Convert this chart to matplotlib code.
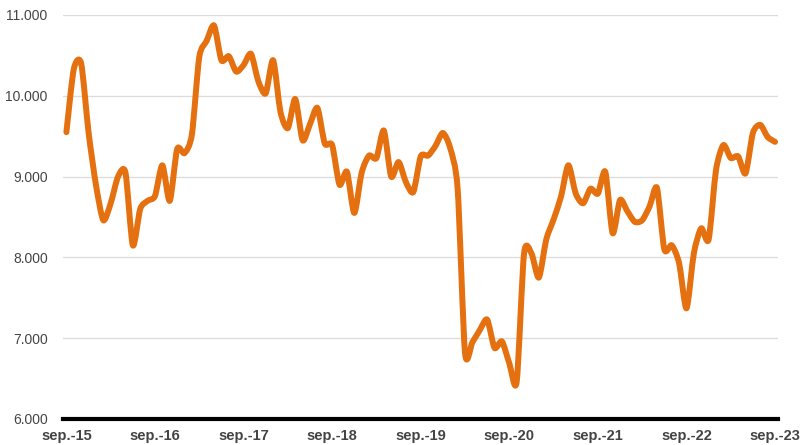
import numpy as np
import matplotlib.pyplot as plt
from matplotlib.path import Path
from matplotlib.patches import PathPatch

plt.rcParams['font.family'] = ['Liberation Sans', 'DejaVu Sans']

# monthly values, sep-15 .. sep-23
values = [9550, 10330, 10400, 9550, 8900, 8460, 8670, 9000, 9050, 8150,
          8600, 8700, 8760, 9140, 8700, 9340, 9290, 9520, 10480, 10680,
          10870, 10440, 10490, 10300, 10380, 10520, 10180, 10030, 10440, 9800,
          9600, 9960, 9450, 9650, 9850, 9410, 9390, 8900, 9060, 8550,
          9050, 9260, 9230, 9570, 9000, 9180, 8930, 8810, 9250, 9260,
          9380, 9540, 9350, 8850, 6820, 6950, 7100, 7230, 6880, 6960,
          6690, 6460, 8050, 8050, 7750, 8220, 8470, 8750, 9140, 8790,
          8670, 8850, 8790, 9060, 8300, 8710, 8570, 8440, 8460, 8630,
          8860, 8100, 8150, 7930, 7370, 8050, 8360, 8220, 9080, 9390,
          9230, 9250, 9040, 9540, 9640, 9490, 9430]
tick_labels = ['sep.-15', 'sep.-16', 'sep.-17', 'sep.-18', 'sep.-19',
               'sep.-20', 'sep.-21', 'sep.-22', 'sep.-23']
yticks = [6000, 7000, 8000, 9000, 10000, 11000]

x = np.arange(len(values), dtype=float)
y = np.array(values, dtype=float)

fig = plt.figure(figsize=(8, 4.45), dpi=100)
ax = fig.add_axes([63/800, 26/445, 715/800, 404/445])

# smooth curve: cardinal spline segments as cubic bezier
k = 1/8
verts = [(x[0], y[0])]
codes = [Path.MOVETO]
for i in range(len(x) - 1):
    p0 = (x[max(i-1, 0)], y[max(i-1, 0)])
    p1 = (x[i], y[i])
    p2 = (x[i+1], y[i+1])
    p3 = (x[min(i+2, len(x)-1)], y[min(i+2, len(x)-1)])
    c1 = (p1[0] + (p2[0]-p0[0])*k, p1[1] + (p2[1]-p0[1])*k)
    c2 = (p2[0] - (p3[0]-p1[0])*k, p2[1] - (p3[1]-p1[1])*k)
    verts += [c1, c2, p2]
    codes += [Path.CURVE4] * 3
patch = PathPatch(Path(verts, codes), facecolor='none', edgecolor='#E5700F',
                  lw=4.3, capstyle='round', joinstyle='round', zorder=3)
ax.add_patch(patch)

ax.set_xlim(-0.46, 96.4)
ax.set_ylim(6000, 11000)
ax.set_yticks(yticks)
ax.set_yticklabels(['{:,}'.format(v).replace(',', '.') for v in yticks])
ax.set_xticks(np.arange(0, 97, 12))
ax.set_xticklabels(tick_labels, fontweight='bold')

ax.grid(axis='y', color='#DDDDDD', lw=1)
ax.set_axisbelow(True)
for s in ['top', 'right', 'left']:
    ax.spines[s].set_visible(False)
ax.spines['bottom'].set_linewidth(3)
ax.spines['bottom'].set_color('black')
ax.tick_params(axis='y', length=0, pad=11, labelsize=10, labelcolor='#444444')
ax.tick_params(axis='x', length=0, pad=7, labelsize=10.5, labelcolor='#444444')

fig.savefig('out.png', dpi=100)
